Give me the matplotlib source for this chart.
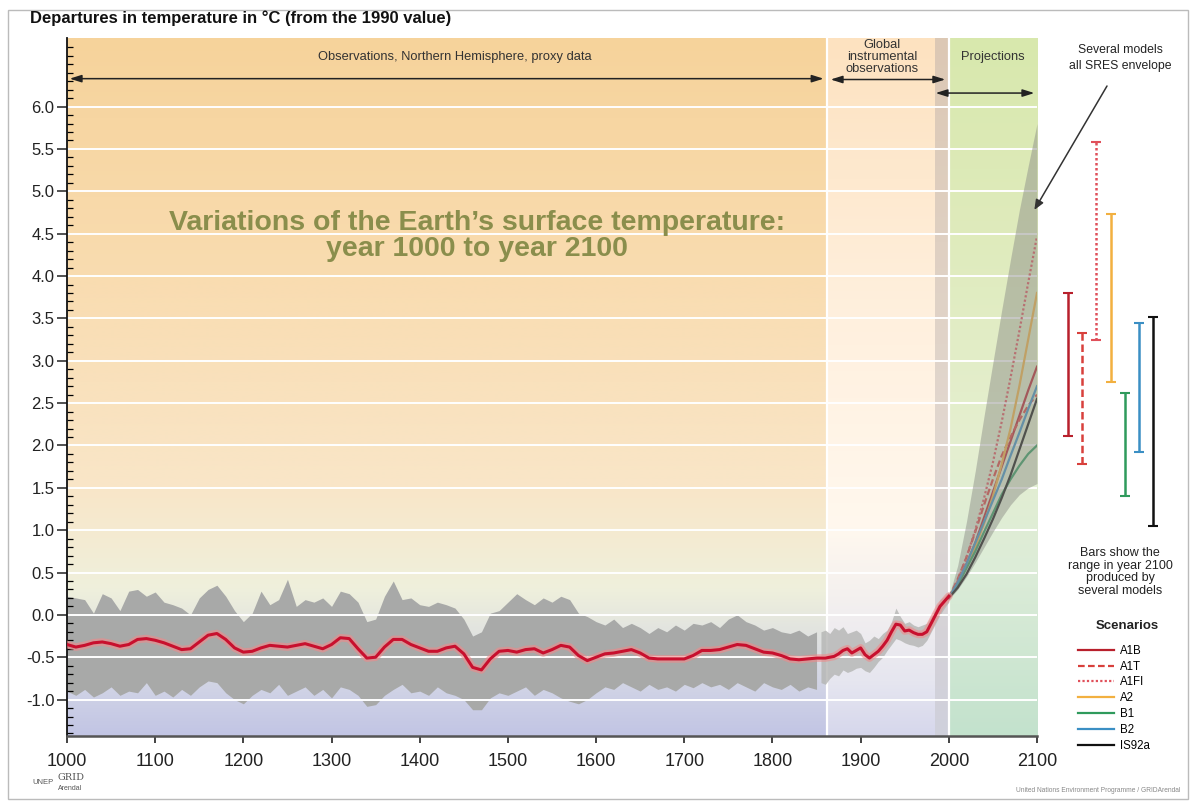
import numpy as np
import matplotlib
matplotlib.use("Agg")
import matplotlib.pyplot as plt
from matplotlib.colors import LinearSegmentedColormap
from matplotlib.patches import Rectangle

plt.rcParams['font.family'] = ['Liberation Sans', 'DejaVu Sans']

# ---- data ----
proxy_years = list(range(1000, 1860, 10))
proxy_smooth = [-0.35, -0.38, -0.36, -0.33, -0.32, -0.34, -0.37, -0.35, -0.29, -0.28,
                -0.30, -0.33, -0.37, -0.41, -0.40, -0.32, -0.24, -0.22, -0.29, -0.39,
                -0.44, -0.43, -0.39, -0.36, -0.37, -0.38, -0.36, -0.34, -0.37, -0.40,
                -0.35, -0.27, -0.28, -0.40, -0.51, -0.50, -0.38, -0.29, -0.29, -0.35,
                -0.39, -0.43, -0.43, -0.39, -0.37, -0.46, -0.62, -0.65, -0.52, -0.43,
                -0.42, -0.44, -0.41, -0.40, -0.45, -0.41, -0.36, -0.38, -0.48, -0.54,
                -0.50, -0.46, -0.45, -0.43, -0.41, -0.45, -0.51, -0.52, -0.52, -0.52,
                -0.52, -0.48, -0.42, -0.42, -0.41, -0.38, -0.35, -0.36, -0.40, -0.44,
                -0.45, -0.48, -0.52, -0.53, -0.52, -0.51]
proxy_upper = [0.22, 0.20, 0.18, 0.02, 0.25, 0.20, 0.05, 0.28, 0.30, 0.22,
               0.27, 0.15, 0.12, 0.08, 0.00, 0.20, 0.30, 0.35, 0.22, 0.05,
               -0.08, 0.02, 0.28, 0.12, 0.18, 0.42, 0.10, 0.18, 0.15, 0.20,
               0.10, 0.28, 0.25, 0.15, -0.08, -0.05, 0.22, 0.40, 0.18, 0.20,
               0.12, 0.10, 0.15, 0.12, 0.08, -0.05, -0.25, -0.20, 0.02, 0.05,
               0.15, 0.25, 0.18, 0.12, 0.20, 0.15, 0.22, 0.18, 0.02, -0.02,
               -0.08, -0.12, -0.05, -0.15, -0.10, -0.15, -0.22, -0.15, -0.20, -0.12,
               -0.18, -0.10, -0.12, -0.08, -0.15, -0.05, 0.00, -0.08, -0.12, -0.18,
               -0.15, -0.20, -0.22, -0.18, -0.25, -0.20]
proxy_lower = [-0.90, -0.95, -0.88, -0.97, -0.92, -0.85, -0.95, -0.90, -0.92, -0.80,
               -0.95, -0.90, -0.97, -0.88, -0.95, -0.85, -0.78, -0.80, -0.92, -1.00,
               -1.05, -0.95, -0.88, -0.92, -0.82, -0.95, -0.90, -0.85, -0.95, -0.88,
               -0.98, -0.85, -0.88, -0.95, -1.08, -1.06, -0.95, -0.88, -0.82, -0.92,
               -0.90, -0.95, -0.85, -0.92, -0.95, -1.00, -1.12, -1.12, -0.98, -0.92,
               -0.95, -0.90, -0.85, -0.95, -0.88, -0.92, -0.98, -1.02, -1.05, -1.00,
               -0.92, -0.85, -0.88, -0.80, -0.85, -0.90, -0.82, -0.88, -0.85, -0.90,
               -0.82, -0.86, -0.80, -0.85, -0.82, -0.88, -0.80, -0.85, -0.90, -0.80,
               -0.85, -0.88, -0.82, -0.90, -0.85, -0.88]

inst_years = list(range(1855, 2005, 5))
inst_smooth = [-0.51, -0.51, -0.50, -0.49, -0.46, -0.42, -0.40, -0.45, -0.42, -0.39,
               -0.47, -0.51, -0.47, -0.43, -0.37, -0.30, -0.20, -0.11, -0.12, -0.19,
               -0.18, -0.21, -0.23, -0.23, -0.20, -0.10, 0.00, 0.10, 0.16, 0.22]
inst_upper = [-0.20, -0.18, -0.22, -0.15, -0.18, -0.14, -0.22, -0.20, -0.18, -0.22,
              -0.33, -0.30, -0.25, -0.28, -0.22, -0.18, -0.08, 0.08, -0.02, -0.10,
              -0.08, -0.12, -0.14, -0.12, -0.10, -0.02, 0.08, 0.18, 0.22, 0.28]
inst_lower = [-0.80, -0.82, -0.75, -0.70, -0.72, -0.65, -0.68, -0.66, -0.63, -0.62,
              -0.66, -0.68, -0.62, -0.55, -0.50, -0.42, -0.35, -0.28, -0.30, -0.33,
              -0.35, -0.36, -0.38, -0.36, -0.30, -0.20, -0.10, 0.00, 0.08, 0.15]

proj_years = list(range(2000, 2110, 10))
sres_upper = [0.22, 0.58, 1.10, 1.70, 2.35, 2.98, 3.60, 4.20, 4.78, 5.30, 5.80]
sres_lower = [0.18, 0.30, 0.45, 0.62, 0.80, 0.98, 1.15, 1.30, 1.42, 1.50, 1.55]

scenarios = ['A1B', 'A1T', 'A1FI', 'A2', 'B1', 'B2', 'IS92a']
scen_values = {
    'A1B':   [0.2, 0.38, 0.60, 0.85, 1.15, 1.45, 1.75, 2.05, 2.35, 2.65, 2.93],
    'A1T':   [0.2, 0.42, 0.68, 0.98, 1.30, 1.60, 1.88, 2.10, 2.30, 2.47, 2.60],
    'A1FI':  [0.2, 0.40, 0.68, 1.00, 1.38, 1.80, 2.28, 2.80, 3.35, 3.92, 4.47],
    'A2':    [0.2, 0.36, 0.56, 0.80, 1.08, 1.40, 1.78, 2.20, 2.70, 3.25, 3.80],
    'B1':    [0.2, 0.35, 0.55, 0.75, 0.98, 1.20, 1.42, 1.60, 1.76, 1.90, 2.00],
    'B2':    [0.2, 0.38, 0.60, 0.85, 1.10, 1.35, 1.60, 1.88, 2.15, 2.43, 2.70],
    'IS92a': [0.2, 0.32, 0.48, 0.68, 0.90, 1.13, 1.38, 1.65, 1.95, 2.25, 2.55],
}
# range in 2100 produced by several models
range_low = [2.11, 1.78, 3.25, 2.75, 1.40, 1.92, 1.05]
range_high = [3.80, 3.33, 5.58, 4.73, 2.62, 3.45, 3.52]

scen_colors = ['#b8202c', '#d8403c', '#e0505a', '#f2b040', '#2f9a5c', '#3b8fc4', '#111111']
scen_styles = ['-', (0, (3, 1.5)), (0, (1, 1)), '-', '-', '-', '-']

# ---- figure ----
W, H = 1196, 801
fig = plt.figure(figsize=(W / 100, H / 100), dpi=100)
fig.patch.set_facecolor('white')
ax_l, ax_r, ax_b, ax_t = 67, 1037, 736, 38
ax = fig.add_axes([ax_l / W, 1 - ax_b / H, (ax_r - ax_l) / W, (ax_b - ax_t) / H])
YMIN, YMAX = -1.43, 6.81


def vgrad(x0, x1, stops):
    cmap = LinearSegmentedColormap.from_list('g', stops)
    z = np.linspace(0, 1, 256).reshape(-1, 1)
    ax.imshow(z, cmap=cmap, origin='lower', aspect='auto',
              extent=(x0, x1, YMIN, YMAX), zorder=0, interpolation='bilinear')


def pos(v):
    return (v - YMIN) / (YMAX - YMIN)


vgrad(1000, 1862, [(0, '#c2c5e4'), (pos(-1.0), '#cdd0e6'), (pos(0.3), '#eff0dc'),
                   (pos(1.5), '#f9e6c8'), (pos(4.0), '#f9dcb0'), (1, '#f6d39b')])
vgrad(1862, 1984, [(0, '#d6d7ec'), (pos(-0.8), '#e6e6f0'), (pos(1.0), '#fff8ee'),
                   (pos(3.5), '#fff0de'), (1, '#fde2c0')])
vgrad(1984, 2000, [(0, '#cfd0dc'), (pos(2.0), '#e2d8d0'), (1, '#dcc8b4')])
vgrad(2000, 2100, [(0, '#c3e2cd'), (pos(0.5), '#dcecd8'), (pos(2.0), '#e5efd0'),
                   (pos(4.5), '#dfebbc'), (1, '#d8e8ad')])

# white separators and horizontal rules
for xv in (1862, 2000):
    ax.axvline(xv, color='white', lw=1.6, zorder=0.5)
for yv in np.arange(-1.0, 6.01, 0.5):
    ax.axhline(yv, color='white', lw=1.4, zorder=2)

# proxy data envelope
ax.fill_between(proxy_years, proxy_lower, proxy_upper,
                color='#a8a9a8', lw=0, zorder=1)
ax.fill_between(inst_years, inst_lower, inst_upper,
                color='#b4b5b3', alpha=0.8, lw=0, zorder=1)

# smoothed temperature
all_years = proxy_years + inst_years[1:]
all_smooth = proxy_smooth + inst_smooth[1:]
ax.plot(all_years, all_smooth, color='#f08a8a', lw=5.5, alpha=0.6,
        solid_capstyle='round', zorder=3)
ax.plot(all_years, all_smooth, color='#c8102e', lw=2.2, zorder=3.1)

# projections
lines = []
for name, c, ls in zip(scenarios, scen_colors, scen_styles):
    ln, = ax.plot(proj_years, scen_values[name], color=c, ls=ls, lw=1.6,
                  label=name, zorder=2.5)
    lines.append(ln)
ax.fill_between(proj_years, sres_lower, sres_upper, color='#8f918a',
                alpha=0.5, lw=0, zorder=2.6)

ax.set_xlim(1000, 2100)
ax.set_ylim(YMIN, YMAX)

# axes styling
for s in ('top', 'right'):
    ax.spines[s].set_visible(False)
ax.spines['left'].set_color('#111111')
ax.spines['left'].set_linewidth(1.3)
ax.spines['bottom'].set_color('#555555')
ax.spines['bottom'].set_linewidth(1.8)
ax.set_xticks(range(1000, 2101, 100))
ax.set_yticks(np.arange(-1.0, 6.01, 0.5))
ax.set_yticks(np.arange(-1.4, 6.8, 0.1), minor=True)
ax.set_yticklabels([f'{v:.1f}' for v in np.arange(-1.0, 6.01, 0.5)])
ax.tick_params(axis='y', which='major', direction='out', length=7, width=1.1,
               labelsize=12, pad=2, colors='#222222')
ax.tick_params(axis='y', which='minor', direction='in', length=4, width=0.9)
ax.tick_params(axis='x', direction='out', length=5, width=1.2, labelsize=13,
               pad=7, colors='#222222')

# region headers
hdr = dict(ha='center', va='center', fontsize=9.3, color='#333333')
ax.text(1440, 6.59, 'Observations, Northern Hemisphere, proxy data', **hdr)
ax.text(1924, 6.59, 'Global\ninstrumental\nobservations', linespacing=1.0, **hdr)
ax.text(2050, 6.59, 'Projections', **hdr)
arr = dict(arrowstyle='<|-|>,head_length=0.7,head_width=0.22', color='#222222',
           lw=1.1, shrinkA=0, shrinkB=0)
ax.annotate('', xy=(1003, 6.33), xytext=(1858, 6.33), arrowprops=arr)
ax.annotate('', xy=(1866, 6.32), xytext=(1996, 6.32), arrowprops=arr)
ax.annotate('', xy=(1985, 6.16), xytext=(2097, 6.16), arrowprops=arr)

ax.text(1465, 4.47, 'Variations of the Earth\u2019s surface temperature:\nyear 1000 to year 2100',
        ha='center', va='center', fontsize=20.5, fontweight='bold',
        color='#8a8e4c', linespacing=1.0, zorder=4)

# envelope annotation
fig.text(1120 / W, 1 - 58 / H, 'Several models\nall SRES envelope', ha='center',
         va='center', fontsize=8.8, color='#222222', linespacing=1.35)
ax.annotate('', xy=(2097, 4.78), xytext=(1107, H - 86), textcoords='figure pixels',
            arrowprops=dict(arrowstyle='-|>,head_length=0.6,head_width=0.25',
                            color='#333333', lw=1.1, shrinkA=0, shrinkB=0),
            annotation_clip=False, zorder=6)

# range bars on the right
ax2 = fig.add_axes([ax_r / W, 1 - ax_b / H, (W - ax_r) / W, (ax_b - ax_t) / H],
                   sharey=ax)
ax2.set_xlim(-2.17, 9.0)
ax2.axis('off')
for i, (lo, hi, c, ls) in enumerate(zip(range_low, range_high, scen_colors, scen_styles)):
    eb = ax2.errorbar(i, (lo + hi) / 2, yerr=(hi - lo) / 2, fmt='none', ecolor=c,
                      elinewidth=1.8, capsize=3.5, capthick=1.5)
    eb[2][0].set_linestyle(ls)

fig.text(1120 / W, 1 - 572 / H, 'Bars show the\nrange in year 2100\nproduced by\nseveral models',
         ha='center', va='center', fontsize=9, color='#222222', linespacing=1.1)

fig.text(1127 / W, 1 - 626 / H, 'Scenarios', ha='center', va='center',
         fontsize=9.5, fontweight='bold', color='#222222')
leg = fig.legend(handles=lines, labels=scenarios, loc='upper left',
                 bbox_to_anchor=(1072 / W, 1 - 639 / H), frameon=False,
                 fontsize=8.3, handlelength=3.1, labelspacing=0.33,
                 handletextpad=0.6, borderpad=0)

# header and credits
fig.text(30 / W, 1 - 18 / H, 'Departures in temperature in \u00b0C (from the 1990 value)',
         ha='left', va='center', fontsize=12, fontweight='bold', color='#111111')
fig.text(32 / W, 1 - 783 / H, 'UNEP', ha='left', va='center', fontsize=5.5,
         color='#555555')
fig.text(58 / W, 1 - 778 / H, 'GRID', ha='left', va='center', fontsize=7,
         color='#555555', family='DejaVu Serif')
fig.text(58 / W, 1 - 789 / H, 'Arendal', ha='left', va='center', fontsize=5,
         color='#555555')
fig.text(1180 / W, 1 - 790 / H, 'United Nations Environment Programme / GRIDArendal',
         ha='right', va='center', fontsize=4.8, color='#888888')
fig.patches.append(Rectangle((8 / W, 2 / H), 1180 / W, 789 / H, transform=fig.transFigure,
                             fill=False, edgecolor='#bbbbbb', lw=1, zorder=0))

fig.savefig('out.png', dpi=100)
